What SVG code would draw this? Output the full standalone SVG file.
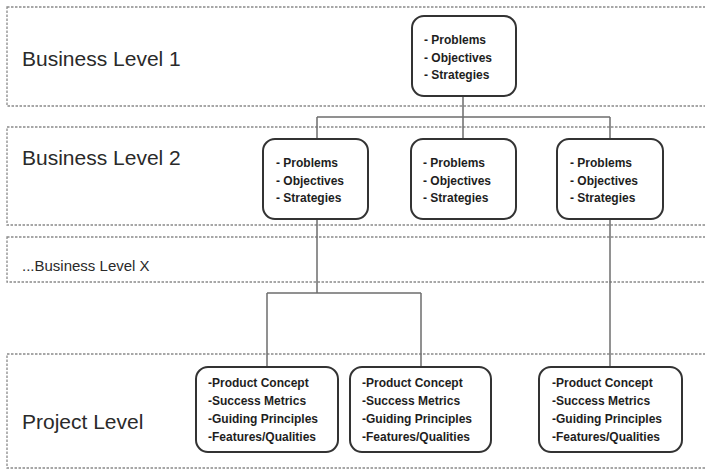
<svg xmlns="http://www.w3.org/2000/svg" width="705" height="471" viewBox="0 0 705 471">
  <style>
    .band { fill: none; stroke: #8a8a8a; stroke-width: 1.3; stroke-dasharray: 2.5 1.5; }
    .level { font-family: "Liberation Sans", Arial, sans-serif; font-size: 21px; fill: #2a2a2a; }
    .levelx { font-family: "Liberation Sans", Arial, sans-serif; font-size: 15px; fill: #2a2a2a; }
    .box { fill: #ffffff; stroke: #333333; stroke-width: 2; }
    .item { font-family: "Liberation Sans", Arial, sans-serif; font-size: 12px; font-weight: bold; fill: #1e1e1e; }
    .wire { fill: none; stroke: #6e6e6e; stroke-width: 1.5; }
  </style>

  <!-- level bands -->
  <g id="bands">
    <rect class="band" x="7" y="7" width="710" height="99"/>
    <rect class="band" x="7" y="127" width="710" height="98"/>
    <rect class="band" x="7" y="237" width="710" height="45"/>
    <rect class="band" x="7" y="354" width="710" height="114"/>
    <text class="level" x="22" y="66">Business Level 1</text>
    <text class="level" x="22" y="165">Business Level 2</text>
    <text class="levelx" x="22" y="271">...Business Level X</text>
    <text class="level" x="22" y="429">Project Level</text>
  </g>

  <!-- connectors -->
  <g id="connectors">
    <path class="wire" d="M463 96 V117 M317 117 H610 M317 117 V139 M463 117 V139 M610 117 V139"/>
    <path class="wire" d="M317 219 V293 M267 293 H421 M267 293 V367 M421 293 V367"/>
    <path class="wire" d="M610 219 V367"/>
  </g>

  <!-- business level 1 -->
  <g id="b1">
    <rect class="box" x="412" y="16" width="104" height="80" rx="12"/>
    <text class="item" x="424" y="44">- Problems</text>
    <text class="item" x="424" y="62">- Objectives</text>
    <text class="item" x="424" y="79">- Strategies</text>
  </g>

  <!-- business level 2 -->
  <g id="b2a">
    <rect class="box" x="263" y="139" width="105" height="80" rx="12"/>
    <text class="item" x="276" y="167">- Problems</text>
    <text class="item" x="276" y="185">- Objectives</text>
    <text class="item" x="276" y="202">- Strategies</text>
  </g>
  <g id="b2b">
    <rect class="box" x="411" y="139" width="105" height="80" rx="12"/>
    <text class="item" x="423" y="167">- Problems</text>
    <text class="item" x="423" y="185">- Objectives</text>
    <text class="item" x="423" y="202">- Strategies</text>
  </g>
  <g id="b2c">
    <rect class="box" x="557" y="139" width="106" height="80" rx="12"/>
    <text class="item" x="570" y="167">- Problems</text>
    <text class="item" x="570" y="185">- Objectives</text>
    <text class="item" x="570" y="202">- Strategies</text>
  </g>

  <!-- project level -->
  <g id="p1">
    <rect class="box" x="196" y="367" width="142" height="85" rx="12"/>
    <text class="item" x="208" y="387">-Product Concept</text>
    <text class="item" x="208" y="405">-Success Metrics</text>
    <text class="item" x="208" y="423">-Guiding Principles</text>
    <text class="item" x="208" y="441">-Features/Qualities</text>
  </g>
  <g id="p2">
    <rect class="box" x="350" y="367" width="141" height="85" rx="12"/>
    <text class="item" x="362" y="387">-Product Concept</text>
    <text class="item" x="362" y="405">-Success Metrics</text>
    <text class="item" x="362" y="423">-Guiding Principles</text>
    <text class="item" x="362" y="441">-Features/Qualities</text>
  </g>
  <g id="p3">
    <rect class="box" x="539" y="367" width="143" height="85" rx="12"/>
    <text class="item" x="552" y="387">-Product Concept</text>
    <text class="item" x="552" y="405">-Success Metrics</text>
    <text class="item" x="552" y="423">-Guiding Principles</text>
    <text class="item" x="552" y="441">-Features/Qualities</text>
  </g>
</svg>
